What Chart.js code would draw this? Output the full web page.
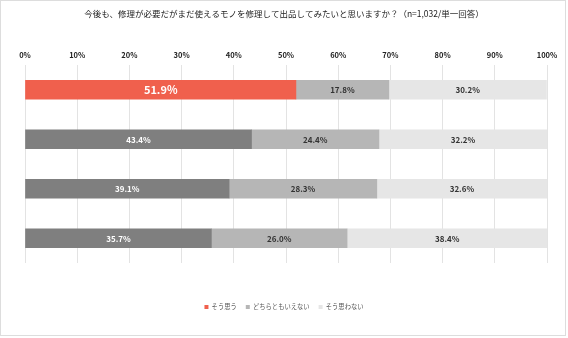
<!DOCTYPE html>
<html>
<head>
<meta charset="utf-8">
<script src="https://cdn.jsdelivr.net/npm/chart.js@4/dist/chart.umd.min.js"></script>
<style>
html,body{margin:0;padding:0;background:#fff;}
#wrap{width:568px;height:338px;position:relative;}
</style>
</head>
<body>
<div id="wrap"><canvas id="c" width="568" height="338"></canvas></div>
<script>
const titleText = "今後も、修理が必要だがまだ使えるモノを修理して出品してみたいと思いますか？（n=1,032/単一回答）";
const categories = ["20代", "30代", "40代", "50代"];
const seriesNames = ["そう思う", "どちらともいえない", "そう思わない"];
const agree = [51.9, 43.4, 39.1, 35.7];
const neutral = [17.8, 24.4, 28.3, 26.0];
const disagree = [30.2, 32.2, 32.6, 38.4];
const xTicks = [0, 10, 20, 30, 40, 50, 60, 70, 80, 90, 100];

const FONT = "'Noto Sans CJK JP', 'Noto Sans', sans-serif";
const RED = '#F0604D', DARK = '#7F7F7F', MID = '#B6B6B6', LIGHT = '#E6E6E6';

const frame = {
  id: 'frame',
  beforeDraw(chart) {
    const c = chart.ctx;
    c.save();
    c.fillStyle = '#fff';
    c.fillRect(0, 0, chart.width, chart.height);
    c.strokeStyle = '#DDDDDD';
    c.lineWidth = 1;
    c.strokeRect(0.5, 0.5, 565, 335);
    c.restore();
  }
};

const labels = {
  id: 'barLabels',
  afterDatasetsDraw(chart) {
    const c = chart.ctx;
    c.save();
    c.textAlign = 'center';
    c.textBaseline = 'middle';
    chart.data.datasets.forEach((ds, di) => {
      const meta = chart.getDatasetMeta(di);
      meta.data.forEach((el, i) => {
        const v = ds.data[i];
        const cx = (el.x + el.base) / 2;
        const big = (di === 0 && i === 0);
        c.font = (big ? 'bold 11px ' : 'bold 8px ') + FONT;
        c.fillStyle = di === 0 ? '#FFFFFF' : '#333333';
        c.fillText(v.toFixed(1) + '%', cx, el.y + 0.5);
      });
    });
    c.restore();
  }
};

new Chart(document.getElementById('c'), {
  type: 'bar',
  data: {
    labels: categories,
    datasets: [
      { label: seriesNames[0], data: agree, backgroundColor: [RED, DARK, DARK, DARK], barThickness: 19 },
      { label: seriesNames[1], data: neutral, backgroundColor: MID, barThickness: 19 },
      { label: seriesNames[2], data: disagree, backgroundColor: LIGHT, barThickness: 19 }
    ]
  },
  options: {
    indexAxis: 'y',
    responsive: false,
    animation: false,
    devicePixelRatio: 1,
    layout: { padding: { left: 21, right: 21, top: 0, bottom: 17.85 } },
    plugins: {
      title: {
        display: true,
        text: titleText,
        color: '#222',
        font: { family: FONT, size: 8.5, weight: 'normal', lineHeight: 1.2 },
        padding: { top: 9, bottom: 10 }
      },
      legend: {
        display: true,
        position: 'bottom',
        labels: {
          usePointStyle: true,
          pointStyle: 'rect',
          boxWidth: 4,
          boxHeight: 4,
          padding: 9,
          color: '#555',
          font: { family: FONT, size: 6.3 }
        }
      },
      tooltip: { enabled: false }
    },
    scales: {
      x: {
        position: 'top',
        stacked: true,
        min: 0,
        max: 100,
        afterBuildTicks(scale) { scale.ticks = xTicks.map(v => ({ value: v })); },
        afterFit(scale) { scale.height = 65 - 29.2; },
        ticks: {
          padding: 5,
          color: '#222',
          maxRotation: 0,
          font: { family: FONT, size: 7.5, weight: 'bold' },
          callback: (v) => v + '%'
        },
        grid: { color: '#E3E3E3', drawTicks: false },
        border: { display: false }
      },
      x2: {
        position: 'bottom',
        axis: 'x',
        display: true,
        min: 0, max: 100,
        ticks: { display: false },
        grid: { display: false, drawTicks: false },
        border: { display: false },
        afterFit(scale) { scale.height = 31.85; }
      },
      y: {
        stacked: true,
        afterFit(scale) { scale.width = 4; },
        ticks: {
          padding: 5,
          color: '#222',
          font: { family: FONT, size: 7.5, weight: 'bold' }
        },
        grid: { display: false, drawTicks: false },
        border: { display: false }
      }
    }
  },
  plugins: [frame, labels]
});
</script>
</body>
</html>
